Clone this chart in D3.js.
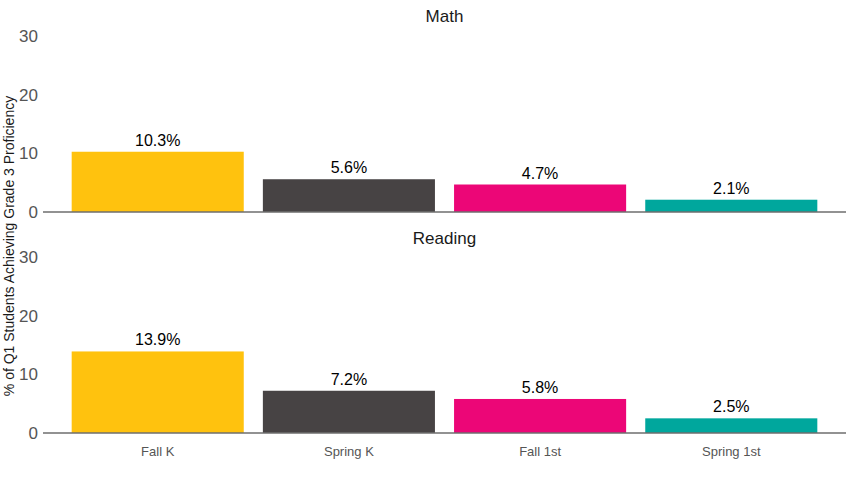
<!DOCTYPE html>
<html>
<head>
<meta charset="utf-8">
<script src="https://cdn.jsdelivr.net/npm/d3@7"></script>
<style>
  html, body { margin: 0; padding: 0; background: #fff; }
  svg { display: block; font-family: "Liberation Sans", Arial, sans-serif; }
</style>
</head>
<body>
<svg id="chart" width="850" height="478"></svg>
<script>
const categories = ["Fall K", "Spring K", "Fall 1st", "Spring 1st"];
const panels = ["Math", "Reading"];
const mathValues = [10.3, 5.6, 4.7, 2.1];
const readingValues = [13.9, 7.2, 5.8, 2.5];
const yTicks = [0, 10, 20, 30];
const colors = ["#FFC20E", "#474344", "#EC0677", "#00A79D"];
const yTitle = "% of Q1 Students Achieving Grade 3 Proficiency";

const seriesByPanel = { "Math": mathValues, "Reading": readingValues };

const svg = d3.select("#chart");
const xLeft = 43, xRight = 846;

const x = d3.scaleBand()
  .domain(categories)
  .range([xLeft, xRight])
  .paddingInner(0.1)
  .paddingOuter(0.15);

const panelLayout = [
  { name: "Math", y0: 212, y30: 36.5, titleY: 22 },
  { name: "Reading", y0: 433, y30: 257, titleY: 244 }
];

panelLayout.forEach(p => {
  const values = seriesByPanel[p.name];
  const y = d3.scaleLinear().domain([0, 30]).range([p.y0, p.y30]);
  const g = svg.append("g");

  g.append("text")
    .attr("x", (xLeft + xRight) / 2)
    .attr("y", p.titleY)
    .attr("text-anchor", "middle")
    .attr("font-size", 17)
    .attr("fill", "#1a1a1a")
    .text(p.name);

  const yAxis = d3.axisLeft(y).tickValues(yTicks).tickSize(0).tickPadding(5);
  const ag = g.append("g").attr("transform", `translate(${xLeft},0)`).call(yAxis);
  ag.select(".domain").remove();
  ag.selectAll("text").attr("font-size", 17).attr("fill", "#555555")
    .attr("font-family", "Liberation Sans, Arial, sans-serif");

  g.selectAll("rect.bar")
    .data(categories)
    .join("rect")
    .attr("class", "bar")
    .attr("x", d => x(d))
    .attr("width", x.bandwidth())
    .attr("y", (d, i) => y(values[i]))
    .attr("height", (d, i) => y(0) - y(values[i]))
    .attr("fill", (d, i) => colors[i]);

  g.append("line")
    .attr("x1", xLeft).attr("x2", xRight)
    .attr("y1", y(0)).attr("y2", y(0))
    .attr("stroke", "#6e6e6e")
    .attr("stroke-width", 1.4);

  g.selectAll("text.lbl")
    .data(categories)
    .join("text")
    .attr("class", "lbl")
    .attr("x", d => x(d) + x.bandwidth() / 2)
    .attr("y", (d, i) => y(values[i]) - 6)
    .attr("text-anchor", "middle")
    .attr("font-size", 16)
    .attr("fill", "#000")
    .text((d, i) => values[i].toFixed(1) + "%");

  if (p.name === "Reading") {
    const xAxis = d3.axisBottom(x).tickSize(0).tickPadding(14);
    const xg = g.append("g").attr("transform", `translate(0,${y(0)})`).call(xAxis);
    xg.select(".domain").remove();
    xg.selectAll("text").attr("font-size", 13).attr("fill", "#555555")
      .attr("font-family", "Liberation Sans, Arial, sans-serif");
  }
});

svg.append("text")
  .attr("transform", "translate(14,246) rotate(-90)")
  .attr("text-anchor", "middle")
  .attr("font-size", 14)
  .attr("fill", "#1a1a1a")
  .text(yTitle);
</script>
</body>
</html>
